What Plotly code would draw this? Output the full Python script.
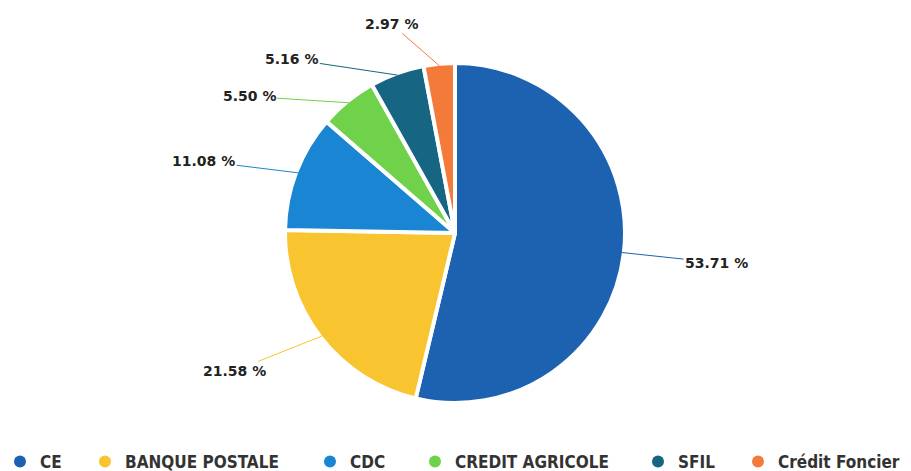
import math
import plotly.graph_objects as go

# ---- data ----
labels = ["CE", "BANQUE POSTALE", "CDC", "CREDIT AGRICOLE", "SFIL", "Crédit Foncier"]
values = [53.71, 21.58, 11.08, 5.50, 5.16, 2.97]
colors = ["#1d62b1", "#f8c42f", "#1a86d3", "#70d14b", "#156583", "#f47a3a"]

# ---- layout / style config (pixels) ----
W, H = 911, 471
CX, CY, R = 455, 233, 170
D, HW = 50, 39
label_nudges = [(4, 4), (-8, 3), (-7, 7), (-28, 34), (-49, 33), (-4, 10)]
legend_text_x = [40, 125, 350, 455, 678, 778]
legend_y_px = 462
label_font = dict(family="DejaVu Sans", size=14, color="#222222")
legend_font = dict(family="DejaVu Sans Condensed", size=17, color="#333333", weight="bold")

fig = go.Figure()
fig.add_trace(go.Pie(
    labels=labels, values=values, sort=False, direction="clockwise", rotation=0,
    marker=dict(colors=colors, line=dict(color="white", width=4)),
    textinfo="none", hoverinfo="label+percent", showlegend=False,
    domain=dict(x=[(CX - R) / W, (CX + R) / W], y=[1 - (CY + R) / H, 1 - (CY - R) / H]),
))

# outside labels with connectors, positions derived from the slice angles
total = sum(values)
start = 0.0
annotations = []
for v, c, (nx, ny) in zip(values, colors, label_nudges):
    span = v / total * 360.0
    mid = math.radians(start + span / 2)
    start += span
    s, co = math.sin(mid), math.cos(mid)
    ex, ey = CX + (R - 2) * s, CY - (R - 2) * co
    side = 1 if s >= 0 else -1
    lx = CX + (R + D) * s + side * HW + nx
    ly = CY - (R + D) * co + ny
    annotations.append(dict(
        x=ex / W, y=1 - ey / H, xref="paper", yref="paper",
        ax=lx - ex, ay=ly - ey, text=f"<b>{v:.2f} %</b>",
        showarrow=True, arrowhead=0, arrowwidth=1, arrowcolor=c, standoff=0,
        font=label_font,
    ))

# legend entries with circle markers, one legend box per item
legends = {}
for i, (lab, c, tx) in enumerate(zip(labels, colors, legend_text_x)):
    key = "legend" if i == 0 else f"legend{i + 1}"
    fig.add_trace(go.Scatter(
        x=[None], y=[None], mode="markers", name=lab,
        marker=dict(color=c, size=13, symbol="circle"),
        legend=key, showlegend=True, hoverinfo="skip",
    ))
    legends[key] = dict(
        x=(tx - 40) / W, y=1 - legend_y_px / H, xref="container", yref="container",
        xanchor="left", yanchor="middle",
        orientation="h", font=legend_font, bgcolor="rgba(0,0,0,0)",
        borderwidth=0, itemsizing="constant",
    )

fig.update_layout(
    width=W, height=H, margin=dict(l=0, r=0, t=0, b=0, autoexpand=False),
    paper_bgcolor="white", plot_bgcolor="white",
    xaxis=dict(visible=False), yaxis=dict(visible=False),
    annotations=annotations, **legends,
)

fig.write_html("out.html")
